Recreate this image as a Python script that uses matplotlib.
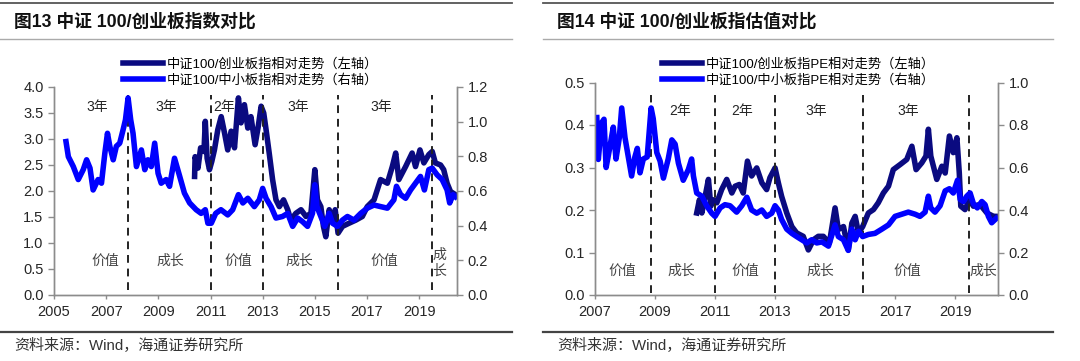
import matplotlib
matplotlib.use("Agg")
import matplotlib.pyplot as plt
from matplotlib.lines import Line2D

plt.rcParams['font.family'] = ['Liberation Sans', 'Noto Sans CJK SC']
plt.rcParams['axes.unicode_minus'] = False

# ---- 图13 data (decimal years) ----
cyb_x = [2010.39, 2010.41, 2010.52, 2010.62, 2010.75, 2010.80, 2010.87, 2010.96, 2011.05, 2011.15,
         2011.28, 2011.41, 2011.54, 2011.66, 2011.79, 2011.92, 2012.07, 2012.17, 2012.30, 2012.43,
         2012.55, 2012.71, 2012.83, 2012.94, 2013.04, 2013.13, 2013.25, 2013.38, 2013.51, 2013.64,
         2013.80, 2013.96, 2014.08, 2014.27, 2014.47, 2014.66, 2014.85, 2015.00, 2015.10, 2015.23,
         2015.33, 2015.42, 2015.55, 2015.68, 2015.78, 2015.89, 2016.06, 2016.31, 2016.57, 2016.82,
         2017.01, 2017.27, 2017.52, 2017.78, 2017.97, 2018.10, 2018.22, 2018.48, 2018.73, 2018.86,
         2019.03, 2019.18, 2019.37, 2019.50, 2019.62, 2019.82, 2019.94, 2020.07, 2020.20, 2020.39]
cyb_ratio = [2.28, 2.66, 2.44, 2.83, 2.76, 3.34, 2.63, 2.41, 2.57, 2.79,
             3.18, 3.43, 3.11, 2.79, 3.15, 2.83, 3.79, 3.31, 3.66, 3.21,
             3.43, 2.89, 3.24, 3.63, 3.50, 3.18, 2.73, 2.22, 1.83, 1.70,
             1.83, 1.64, 1.44, 1.57, 1.64, 1.51, 1.57, 2.41, 1.83, 1.70,
             1.32, 1.12, 1.64, 1.44, 1.64, 1.19, 1.32, 1.38, 1.44, 1.51,
             1.70, 1.83, 2.22, 2.15, 2.47, 2.73, 2.22, 2.47, 2.73, 2.47,
             2.79, 2.54, 2.70, 2.76, 2.54, 2.50, 2.41, 2.15, 1.99, 1.93]

zxb_x = [2005.46, 2005.55, 2005.74, 2005.93, 2006.12, 2006.25, 2006.38, 2006.50, 2006.69, 2006.82,
         2006.95, 2007.05, 2007.14, 2007.27, 2007.39, 2007.52, 2007.65, 2007.74, 2007.84, 2007.94,
         2008.03, 2008.16, 2008.35, 2008.48, 2008.60, 2008.73, 2008.86, 2008.99, 2009.11, 2009.30,
         2009.43, 2009.62, 2009.82, 2010.00, 2010.20, 2010.45, 2010.64, 2010.80, 2010.90, 2011.03,
         2011.20, 2011.40, 2011.66, 2011.85, 2012.07, 2012.24, 2012.43, 2012.68, 2012.87, 2013.00,
         2013.13, 2013.32, 2013.51, 2013.76, 2013.96, 2014.15, 2014.34, 2014.53, 2014.72, 2014.91,
         2015.00, 2015.08, 2015.23, 2015.38, 2015.55, 2015.68, 2015.87, 2016.06, 2016.25, 2016.50,
         2016.76, 2017.01, 2017.27, 2017.52, 2017.78, 2018.03, 2018.13, 2018.29, 2018.48, 2018.67,
         2018.86, 2019.05, 2019.20, 2019.37, 2019.50, 2019.69, 2019.88, 2020.07, 2020.17, 2020.30, 2020.39]
zxb_ratio = [0.885, 0.798, 0.741, 0.666, 0.723, 0.780, 0.732, 0.606, 0.666, 0.645,
             0.819, 0.933, 0.858, 0.780, 0.858, 0.876, 0.954, 1.011, 1.137, 1.011,
             0.933, 0.741, 0.837, 0.723, 0.780, 0.741, 0.876, 0.702, 0.645, 0.666,
             0.627, 0.789, 0.684, 0.588, 0.531, 0.492, 0.471, 0.492, 0.414, 0.414,
             0.471, 0.492, 0.462, 0.492, 0.579, 0.531, 0.558, 0.510, 0.549, 0.615,
             0.558, 0.510, 0.444, 0.453, 0.471, 0.396, 0.444, 0.423, 0.396, 0.471,
             0.636, 0.510, 0.453, 0.396, 0.471, 0.414, 0.396, 0.432, 0.453, 0.432,
             0.471, 0.501, 0.519, 0.510, 0.501, 0.549, 0.627, 0.579, 0.558, 0.606,
             0.645, 0.684, 0.606, 0.723, 0.732, 0.693, 0.666, 0.606, 0.531, 0.579, 0.567]

# ---- 图14 data ----
cyb_pe_x = [2010.39, 2010.48, 2010.56, 2010.67, 2010.78, 2010.86, 2010.94,
            2011.06, 2011.22, 2011.39, 2011.56, 2011.67, 2011.81, 2011.94,
            2012.08, 2012.22, 2012.39, 2012.56, 2012.72, 2012.83,
            2013.00, 2013.11, 2013.22, 2013.39, 2013.56, 2013.72, 2013.94,
            2014.11, 2014.28, 2014.44, 2014.61, 2014.81,
            2015.00, 2015.11, 2015.28, 2015.44, 2015.56, 2015.67, 2015.78, 2015.92,
            2016.11, 2016.28, 2016.44, 2016.61, 2016.78, 2016.94,
            2017.17, 2017.39, 2017.56, 2017.70, 2017.89,
            2018.03, 2018.11, 2018.19, 2018.39, 2018.56, 2018.67, 2018.81, 2018.94,
            2019.06, 2019.14, 2019.19, 2019.33, 2019.48, 2019.61, 2019.83,
            2020.06, 2020.28, 2020.37]
cyb_pe = [0.193, 0.224, 0.193, 0.232, 0.272, 0.209, 0.224,
          0.217, 0.248, 0.272, 0.240, 0.256, 0.260, 0.240,
          0.315, 0.280, 0.299, 0.264, 0.248, 0.276,
          0.299, 0.264, 0.232, 0.193, 0.161, 0.146, 0.138,
          0.106, 0.130, 0.138, 0.138, 0.122,
          0.205, 0.154, 0.161, 0.106, 0.169, 0.185, 0.146, 0.161,
          0.193, 0.201, 0.217, 0.240, 0.256, 0.295,
          0.307, 0.319, 0.350, 0.295, 0.311,
          0.327, 0.390, 0.327, 0.272, 0.303, 0.287, 0.374, 0.335,
          0.370, 0.287, 0.209, 0.201, 0.224, 0.209, 0.213,
          0.193, 0.185, 0.185]

zxb_pe_x = [2007.06, 2007.11, 2007.22, 2007.30, 2007.37, 2007.50, 2007.61, 2007.70, 2007.81, 2007.89,
            2008.00, 2008.11, 2008.22, 2008.33, 2008.41, 2008.50, 2008.61, 2008.74, 2008.87, 2008.94,
            2009.06, 2009.17, 2009.28, 2009.44, 2009.56, 2009.67, 2009.78, 2009.94,
            2010.11, 2010.22, 2010.28, 2010.39, 2010.56, 2010.72, 2010.89,
            2011.00, 2011.17, 2011.33, 2011.50, 2011.72, 2011.89,
            2012.06, 2012.22, 2012.39, 2012.56, 2012.72, 2012.89,
            2013.00, 2013.11, 2013.22, 2013.39, 2013.56, 2013.72, 2013.89,
            2014.06, 2014.22, 2014.39, 2014.56, 2014.78,
            2015.00, 2015.11, 2015.28, 2015.44, 2015.56, 2015.67, 2015.78, 2015.92,
            2016.11, 2016.33, 2016.56, 2016.78,
            2017.00, 2017.22, 2017.44, 2017.67, 2017.83,
            2018.00, 2018.11, 2018.19, 2018.33, 2018.50, 2018.67, 2018.81, 2018.94,
            2019.08, 2019.17, 2019.28, 2019.39, 2019.50, 2019.61, 2019.74, 2019.89,
            2020.00, 2020.11, 2020.22, 2020.37]
zxb_pe = [0.835, 0.638, 0.810, 0.827, 0.600, 0.700, 0.790, 0.640, 0.740, 0.880,
          0.740, 0.650, 0.560, 0.650, 0.690, 0.575, 0.640, 0.650, 0.880, 0.830,
          0.670, 0.630, 0.550, 0.640, 0.730, 0.710, 0.620, 0.540,
          0.590, 0.640, 0.560, 0.480, 0.465, 0.420, 0.385,
          0.370, 0.410, 0.425, 0.420, 0.390, 0.420,
          0.460, 0.400, 0.385, 0.400, 0.370, 0.385,
          0.420, 0.400, 0.355, 0.310, 0.290, 0.275, 0.260,
          0.245, 0.260, 0.245, 0.250, 0.230,
          0.330, 0.275, 0.260, 0.210, 0.310, 0.260, 0.300, 0.275,
          0.285, 0.290, 0.310, 0.330,
          0.370, 0.380, 0.390, 0.380, 0.370,
          0.390, 0.465, 0.410, 0.390, 0.420, 0.490, 0.500, 0.480,
          0.540, 0.450, 0.440, 0.465, 0.480, 0.430, 0.410, 0.440,
          0.425, 0.370, 0.340, 0.360]

# style switch dates and labels
split13 = [2007.84, 2011.0, 2013.0, 2015.89, 2019.48]
years13 = [(2006.66, '3年'), (2009.32, '3年'), (2011.54, '2年'), (2014.38, '3年'), (2017.54, '3年')]
style13 = [(2006.95, '价值'), (2009.45, '成长'), (2012.06, '价值'), (2014.4, '成长'), (2017.66, '价值')]

split14 = [2008.87, 2011.0, 2013.0, 2015.92, 2019.48]
years14 = [(2009.83, '2年'), (2011.9, '2年'), (2014.37, '3年'), (2017.43, '3年')]
style14 = [(2007.9, '价值'), (2009.87, '成长'), (2012.0, '价值'), (2014.5, '成长'), (2017.4, '价值'), (2019.93, '成长')]

DARK = '#0a0a80'
BLUE = '#0000ff'
GRAY = '#8c8c8c'
TXT = '#262626'
LW = 4.0


def style_axes(ax, ax2):
    for a in (ax, ax2):
        a.spines['top'].set_visible(False)
        for s in ('left', 'right', 'bottom'):
            a.spines[s].set_color(GRAY)
            a.spines[s].set_linewidth(1.0)
        a.tick_params(colors=GRAY, labelcolor=TXT, labelsize=10.5, length=4, width=1)
    ax.tick_params(axis='x', length=3, pad=4)


fig = plt.figure(figsize=(10.8, 3.61), dpi=100)

# separator lines and titles
for x0, x1 in [(0.0, 0.474), (0.503, 0.975)]:
    fig.add_artist(Line2D([x0, x1], [1 - 3 / 361, 1 - 3 / 361], transform=fig.transFigure, color='#555555', lw=1.3))
    fig.add_artist(Line2D([x0, x1], [1 - 39 / 361, 1 - 39 / 361], transform=fig.transFigure, color='#aaaaaa', lw=1.0))
    fig.add_artist(Line2D([x0, x1], [1 - 332 / 361, 1 - 332 / 361], transform=fig.transFigure, color='#444444', lw=1.6))

fig.text(14 / 1080, 1 - 22 / 361, '图13 中证 100/创业板指数对比', fontsize=12.8, fontweight='bold', va='center', color='#111111')
fig.text(557 / 1080, 1 - 22 / 361, '图14 中证 100/创业板指估值对比', fontsize=12.8, fontweight='bold', va='center', color='#111111')
fig.text(14 / 1080, 1 - 346 / 361, '资料来源：Wind，海通证券研究所', fontsize=10.8, va='center', color='#333333')
fig.text(557 / 1080, 1 - 346 / 361, '资料来源：Wind，海通证券研究所', fontsize=10.8, va='center', color='#333333')

# ---------- 图13 ----------
ax = fig.add_axes([54 / 1080, 66 / 361, 403 / 1080, 208 / 361])
ax2 = ax.twinx()
l1, = ax.plot(cyb_x, cyb_ratio, color=DARK, lw=LW, solid_joinstyle='round')
l2, = ax2.plot(zxb_x, zxb_ratio, color=BLUE, lw=LW, solid_joinstyle='round')
ax.set_xlim(2005, 2020.45)
ax.set_ylim(0, 4)
ax2.set_ylim(0, 1.2)
ax.set_xticks([2005, 2007, 2009, 2011, 2013, 2015, 2017, 2019])
ax.set_yticks([0, 0.5, 1, 1.5, 2, 2.5, 3, 3.5, 4])
ax.set_yticklabels(['%.1f' % v for v in ax.get_yticks()])
ax2.set_yticks([0, 0.2, 0.4, 0.6, 0.8, 1.0, 1.2])
ax2.set_yticklabels(['%.1f' % v for v in ax2.get_yticks()])
style_axes(ax, ax2)
for xv in split13:
    ax.plot([xv, xv], [0.1, 3.85], color='#222222', lw=1.4, ls=(0, (4, 3)))
for xv, s in years13:
    ax.text(xv, 3.62, s, fontsize=10, ha='center', va='center', color=TXT)
for xv, s in style13:
    ax.text(xv, 0.65, s, fontsize=10, ha='center', va='center', color='#444444')
ax.text(2019.77, 0.62, '成\n长', fontsize=10, ha='center', va='center', color='#444444', linespacing=1.1)
ax.legend([l1, l2], ['中证100/创业板指相对走势（左轴）', '中证100/中小板指相对走势（右轴）'],
          loc='upper left', bbox_to_anchor=(123 / 1080, 1 - 58 / 361), bbox_transform=fig.transFigure,
          frameon=False, fontsize=9.5, handlelength=3.0, handletextpad=0.3, labelspacing=0.25,
          borderaxespad=0, borderpad=0)

# ---------- 图14 ----------
bx = fig.add_axes([595 / 1080, 66 / 361, 403 / 1080, 212.5 / 361])
bx2 = bx.twinx()
m1, = bx.plot(cyb_pe_x, cyb_pe, color=DARK, lw=LW, solid_joinstyle='round')
m2, = bx2.plot(zxb_pe_x, zxb_pe, color=BLUE, lw=LW, solid_joinstyle='round')
bx.set_xlim(2007, 2020.43)
bx.set_ylim(0, 0.5)
bx2.set_ylim(0, 1.0)
bx.set_xticks([2007, 2009, 2011, 2013, 2015, 2017, 2019])
bx.set_yticks([0, 0.1, 0.2, 0.3, 0.4, 0.5])
bx.set_yticklabels(['%.1f' % v for v in bx.get_yticks()])
bx2.set_yticks([0, 0.2, 0.4, 0.6, 0.8, 1.0])
bx2.set_yticklabels(['%.1f' % v for v in bx2.get_yticks()])
style_axes(bx, bx2)
for xv in split14:
    bx.plot([xv, xv], [0.004, 0.47], color='#222222', lw=1.4, ls=(0, (4, 3)))
for xv, s in years14:
    bx.text(xv, 0.432, s, fontsize=10, ha='center', va='center', color=TXT)
for xv, s in style14:
    bx.text(xv, 0.057, s, fontsize=10, ha='center', va='center', color='#444444')
bx.legend([m1, m2], ['中证100/创业板指PE相对走势（左轴）', '中证100/中小板指PE相对走势（右轴）'],
          loc='upper left', bbox_to_anchor=(662 / 1080, 1 - 58 / 361), bbox_transform=fig.transFigure,
          frameon=False, fontsize=9.5, handlelength=3.0, handletextpad=0.3, labelspacing=0.25,
          borderaxespad=0, borderpad=0)

fig.savefig('out.png', dpi=100)
